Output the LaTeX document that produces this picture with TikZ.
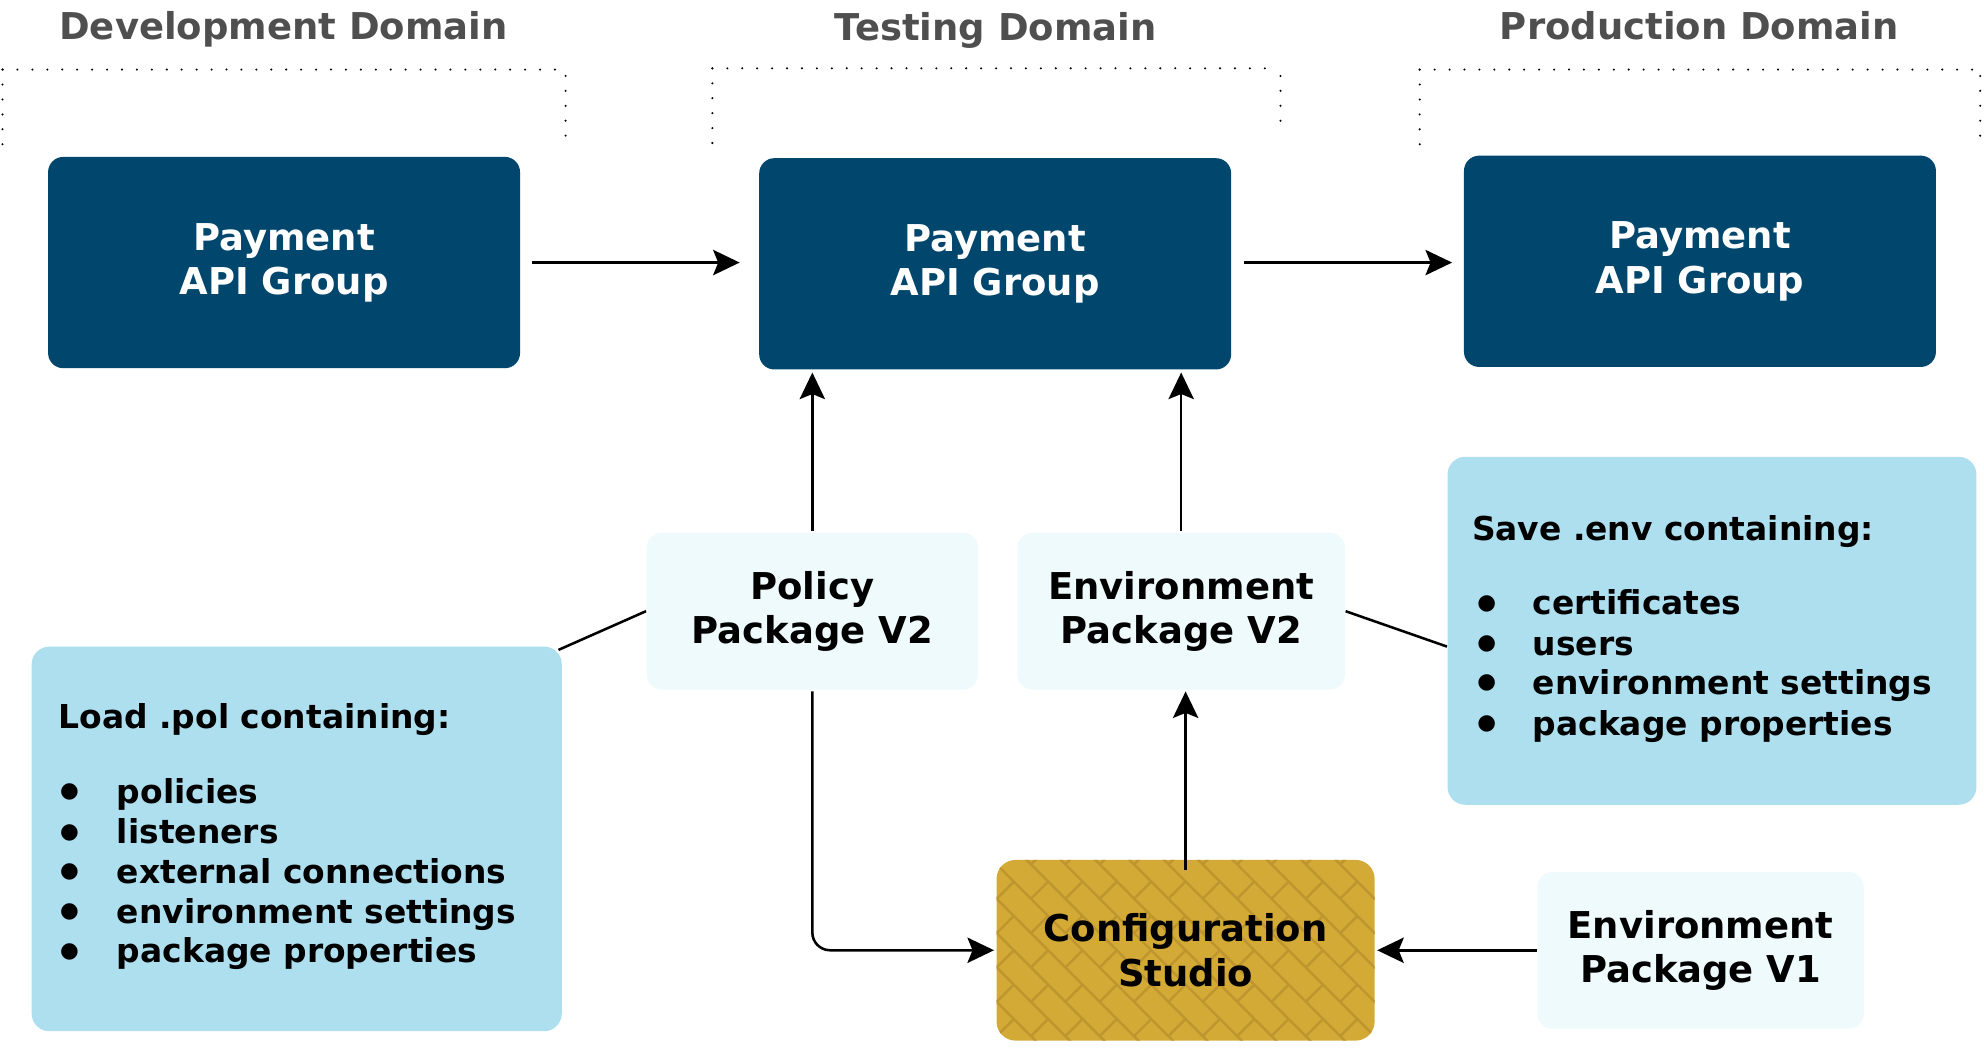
\documentclass[tikz,border=0pt]{standalone}
\usepackage{fontspec}
\setmainfont{DejaVu Sans}
\usetikzlibrary{arrows.meta,calc,backgrounds}
\definecolor{navy}{HTML}{01476D}
\definecolor{paleblue}{HTML}{EFFAFD}
\definecolor{infoblue}{HTML}{ADDFEF}
\definecolor{gold}{HTML}{D4AA37}
\definecolor{golddark}{HTML}{BE952E}
\definecolor{titlegray}{HTML}{4F4F4F}
\begin{document}
\begin{tikzpicture}[x=0.5pt,y=-0.5pt,
  big/.style={font=\bfseries\fontsize{14.6}{17.5}\selectfont, align=center},
  pag/.style={big, text=white, fill=navy, rounded corners=6pt, minimum width=186.5pt, minimum height=83.5pt, inner sep=0pt},
  pkg/.style={big, fill=paleblue, rounded corners=6pt, minimum width=130pt, minimum height=62pt, inner sep=0pt},
  info/.style={fill=infoblue, rounded corners=7pt, inner sep=0pt},
  cfgbox/.style={big, minimum width=149pt, minimum height=71pt, inner sep=0pt},
  titletxt/.style={font=\bfseries\fontsize{14.6}{17.5}\selectfont, text=titlegray, anchor=base, inner sep=0pt},
  listtxt/.style={font=\bfseries\fontsize{13}{15.75}\selectfont, anchor=base west, inner sep=0pt},
  bul/.style={font=\fontsize{8.5}{10}\selectfont, inner sep=0pt},
  arr/.style={line width=1pt, -{Stealth[length=10.5pt,width=10pt,inset=2pt]}},
  conn/.style={line width=1pt},
  brick/.style={draw=golddark, line width=0.95pt},
  dotline/.style={line width=0.9pt, line cap=round, dash pattern=on 0pt off 5.9pt}
]
\useasboundingbox (0,0) rectangle (1568,837);

% domain titles
\node[titletxt] (tdev) at (224,31.5) {Development Domain};
\node[titletxt] (ttest) at (787,32) {Testing Domain};
\node[titletxt] (tprod) at (1343,31) {Production Domain};

% dotted brackets
\draw[dotline] (2,55) -- (444,55);
\draw[dotline] (2,55) -- (2,115);
\draw[dotline] (447,60) -- (447,108);
\draw[dotline] (563,54) -- (1009,54);
\draw[dotline] (563,54) -- (563,115);
\draw[dotline] (1012,60) -- (1012,103);
\draw[dotline] (1122,55) -- (1562,55);
\draw[dotline] (1122,55) -- (1122,115);
\draw[dotline] (1565,60) -- (1565,108);

% API groups
\node[pag] (dev) at (224.5,207.5) {Payment\\API Group};
\node[pag] (test) at (786.5,208.5) {Payment\\API Group};
\node[pag] (prod) at (1343.5,206.5) {Payment\\API Group};

% packages
\node[pkg, minimum width=131pt] (pol) at (642,483) {Policy\\Package V2};
\node[pkg, minimum width=129.5pt] (env2) at (933.5,483) {Environment\\Package V2};
\node[pkg, minimum width=129pt] (env1) at (1344,751) {Environment\\Package V1};

% info boxes
\node[info, minimum width=209pt, minimum height=137.5pt] (save) at (1353,498.5) {};
\node[info, minimum width=209.5pt, minimum height=152pt] (load) at (234.5,663) {};

\node[listtxt] (sh) at (1163,427) {Save .env containing:};
\node[bul] (sb1) at (1175,477) {●};
\node[bul] (sb2) at (1175,509) {●};
\node[bul] (sb3) at (1175,540) {●};
\node[bul] (sb4) at (1175,572) {●};
\node[listtxt] (st1) at (1211,486) {certificates};
\node[listtxt] (st2) at (1211,518) {users};
\node[listtxt] (st3) at (1211,549) {environment settings};
\node[listtxt] (st4) at (1211,581) {package properties};

\node[listtxt] (lh) at (46,576) {Load .pol containing:};
\node[bul] (lb1) at (55,626) {●};
\node[bul] (lb2) at (55,658) {●};
\node[bul] (lb3) at (55,689) {●};
\node[bul] (lb4) at (55,721) {●};
\node[bul] (lb5) at (55,752) {●};
\node[listtxt] (lt1) at (92,635) {policies};
\node[listtxt] (lt2) at (92,667) {listeners};
\node[listtxt] (lt3) at (92,698) {external connections};
\node[listtxt] (lt4) at (92,730) {environment settings};
\node[listtxt] (lt5) at (92,761) {package properties};

% configuration studio (text node; fill and brick pattern on background layer)
\node[cfgbox] (cfg) at (937,751) {Configuration\\Studio};
\begin{scope}[on background layer]
  \fill[gold, rounded corners=7.5pt] (cfg.south west) rectangle (cfg.north east);
  \begin{scope}
    \clip[rounded corners=7.5pt] (cfg.south west) rectangle (cfg.north east);
    \begin{scope}[shift={(cfg.center)}, rotate=-45]
      \foreach \k in {-10,...,10} { \draw[brick] (-240,\k*19.2) -- (240,\k*19.2); }
      \foreach \k in {-10,...,9} { \foreach \j in {-7,...,7} {
        \draw[brick] ({\j*38.4+19.2*mod(\k+20,2)},\k*19.2) -- ++(0,19.2); } }
    \end{scope}
  \end{scope}
\end{scope}

% connectors
\draw[arr, shorten <=4.5pt, shorten >=7.5pt] (dev.east) -- (test.west |- dev.east);
\draw[arr, shorten <=5pt, shorten >=4.5pt] (test.east |- dev.east) -- (prod.west |- dev.east);
\draw[arr, shorten <=0.5pt, shorten >=1pt] (pol.north) -- (pol.north |- test.south);
\draw[arr, shorten <=0.5pt, shorten >=1pt] (env2.north) -- (env2.north |- test.south);
\draw[arr, shorten <=-4pt, shorten >=0.5pt] (cfg.north) -- (cfg.north |- env2.south);
\draw[arr, rounded corners=7pt, shorten <=0.5pt, shorten >=1pt] (pol.south) |- (cfg.west);
\draw[arr, shorten <=0pt, shorten >=1pt] (env1.west) -- (env1.west -| cfg.east);
\begin{scope}[on background layer]
\draw[conn] (pol.west) -- ($(load.north east)+(-3,3)$);
\draw[conn] (env2.east) -- ($(save.west)+(0,12.5)$);
\end{scope}
\end{tikzpicture}
\end{document}
